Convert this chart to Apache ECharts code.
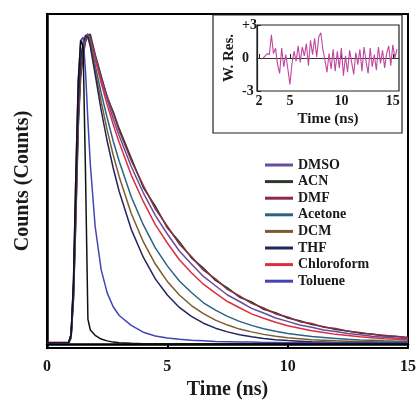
<!DOCTYPE html>
<html><head><meta charset="utf-8">
<script src="https://cdn.jsdelivr.net/npm/echarts@6/dist/echarts.min.js"></script>
<style>html,body{margin:0;padding:0;background:#fff}#c{width:418px;height:400px}</style>
</head><body><div id="c"></div>
<script>
// ---- data ----
const timeNs = [0, 0.9, 1.0, 1.1, 1.2, 1.3, 1.4, 1.5, 1.6, 1.7, 1.8, 2.0, 2.25, 2.5, 2.75, 3.0, 3.5, 4.0, 4.5, 5.0, 5.5, 6.0, 6.5, 7.0, 7.5, 8.0, 8.5, 9.0, 9.5, 10.0, 10.5, 11.0, 11.5, 12.0, 12.5, 13.0, 13.5, 14.0, 14.5, 15.0];

const seriesNames = ['DMSO', 'ACN', 'DMF', 'Acetone', 'DCM', 'THF', 'Chloroform', 'Toluene'];

const dmso = [0.004,0.004,0.03,0.18,0.48,0.78,0.92,0.97,0.995,1.0,0.98,
  0.925,0.853,0.79,0.727,0.672,0.573,0.488,0.415,0.355,0.30,0.258,0.218,0.188,0.158,0.137,0.115,0.100,0.084,0.073,0.061,0.054,0.045,0.040,0.034,0.030,0.025,0.022,0.019,0.017];
const acn = [0.004,0.004,0.02,0.14,0.40,0.70,0.86,0.93,0.975,0.995,1.0,
  0.935,0.866,0.795,0.75,0.695,0.60,0.505,0.445,0.375,0.33,0.278,0.245,0.205,0.181,0.151,0.136,0.112,0.101,0.084,0.075,0.063,0.056,0.047,0.042,0.035,0.032,0.026,0.025,0.020];
const dmf = [0.005,0.005,0.02,0.15,0.42,0.72,0.88,0.94,0.98,1.0,0.99,
  0.93,0.862,0.80,0.745,0.688,0.592,0.512,0.436,0.38,0.322,0.282,0.238,0.21,0.176,0.155,0.131,0.116,0.097,0.087,0.072,0.066,0.054,0.050,0.041,0.037,0.031,0.028,0.024,0.021];
const acetone = [0.004,0.004,0.02,0.16,0.45,0.75,0.9,0.96,0.99,1.0,0.975,
  0.90,0.81,0.73,0.655,0.59,0.475,0.385,0.31,0.252,0.203,0.166,0.133,0.109,0.089,0.073,0.060,0.049,0.041,0.034,0.029,0.024,0.021,0.018,0.015,0.013,0.012,0.010,0.009,0.009];
const dcm = [0.004,0.004,0.02,0.17,0.46,0.76,0.9,0.96,0.99,0.995,0.97,
  0.885,0.782,0.69,0.61,0.54,0.421,0.33,0.258,0.202,0.158,0.124,0.098,0.077,0.061,0.048,0.039,0.031,0.025,0.020,0.017,0.014,0.012,0.010,0.009,0.008,0.007,0.006,0.006,0.005];
const thf = [0.004,0.004,0.03,0.18,0.48,0.78,0.92,0.97,0.995,0.99,0.96,
  0.87,0.755,0.655,0.568,0.492,0.37,0.28,0.21,0.158,0.118,0.089,0.067,0.051,0.039,0.030,0.023,0.018,0.014,0.011,0.009,0.007,0.006,0.005,0.005,0.004,0.004,0.004,0.003,0.003];
const chloroform = [0.005,0.005,0.02,0.16,0.44,0.74,0.89,0.95,0.985,1.0,0.98,
  0.92,0.843,0.772,0.708,0.65,0.545,0.46,0.385,0.326,0.272,0.23,0.193,0.164,0.137,0.117,0.097,0.083,0.070,0.059,0.051,0.043,0.037,0.031,0.027,0.023,0.020,0.017,0.015,0.013];
const toluene = [0.003,0.004,0.03,0.2,0.55,0.85,0.98,0.99,0.88,0.72,0.58,
  0.38,0.24,0.165,0.12,0.092,0.06,0.038,0.026,0.019,0.015,0.012,0.010,0.008,0.007,0.006,0.006,0.005,0.005,0.004,0.004,0.004,0.004,0.003,0.003,0.003,0.003,0.003,0.003,0.003];
const irf = [0.003,0.004,0.03,0.2,0.55,0.85,0.98,0.96,0.55,0.08,0.045,
  0.028,0.016,0.010,0.006,0.004,0.002,0.001,0.001,0.001,0.001,0.001,0.001,0.001,0.001,0.001,0.001,0.001,0.001,0.001,0.001,0.001,0.001,0.001,0.001,0.001,0.001,0.001,0.001,0.001];

const residTime = [2.4,2.6,2.8,3.0,3.2,3.4,3.6,3.8,4.0,4.2,4.4,4.6,4.8,5.0,5.2,5.4,5.6,5.8,6.0,6.2,6.4,6.6,6.8,7.0,7.2,7.4,7.6,7.8,8.0,8.2,8.4,8.6,8.8,9.0,9.2,9.4,9.6,9.8,10.0,10.2,10.4,10.6,10.8,11.0,11.2,11.4,11.6,11.8,12.0,12.2,12.4,12.6,12.8,13.0,13.2,13.4,13.6,13.8,14.0,14.2,14.4,14.6,14.8,15.0,15.2,15.4];
const residValue = [0.0,0.2,0.4,0.3,2.1,0.4,0.9,-0.6,-1.4,0.9,-0.8,0.3,-1.0,-2.4,-0.5,0.6,-0.3,1.1,-0.4,1.0,0.2,1.3,-0.7,1.6,0.3,1.8,0.1,1.9,2.3,0.8,-0.2,-1.3,0.4,-1.0,0.8,-1.2,0.6,-0.9,0.9,-1.6,0.2,-1.3,0.7,-0.4,-1.5,0.5,-0.6,0.8,-1.2,1.0,-0.3,-1.4,0.9,-0.8,0.3,-1.1,1.0,-0.5,0.7,-0.9,0.4,1.1,-0.7,1.2,0.0,0.8];

const mainXTicks = [0, 5, 10, 15];
const insetXTicks = [2, 5, 10, 15];
const insetYTicks = [-3, 0, 3];

// ---- styling ----
const FONT = 'Liberation Serif';
const TXT = '#1a1a1a';
const colors = {
  DMSO: '#6a4c9c', ACN: '#2c3a2c', DMF: '#8a2c44', Acetone: '#2a6482',
  DCM: '#7c5c2c', THF: '#24245e', Chloroform: '#d8303f', Toluene: '#4444b4'
};
const dataMap = {DMSO: dmso, ACN: acn, DMF: dmf, Acetone: acetone, DCM: dcm, THF: thf, Chloroform: chloroform, Toluene: toluene};
const drawOrder = ['ACN', 'DMF', 'DMSO', 'Chloroform', 'Acetone', 'DCM', 'THF', 'Toluene'];

const zip = (xs, ys) => xs.map((x, i) => [x, ys[i]]);

const series = drawOrder.map(name => ({
  name, type: 'line', xAxisIndex: 0, yAxisIndex: 0,
  data: zip(timeNs, dataMap[name]), showSymbol: false, symbol: 'none',
  lineStyle: {width: 1.5, color: colors[name]}, itemStyle: {color: colors[name]},
  z: 3
}));
series.push({
  name: 'IRF', type: 'line', xAxisIndex: 0, yAxisIndex: 0,
  data: zip(timeNs, irf), showSymbol: false, symbol: 'none',
  lineStyle: {width: 1.5, color: '#111'}, itemStyle: {color: '#111'}, z: 4
});
series.push({
  name: 'resid', type: 'line', xAxisIndex: 1, yAxisIndex: 1,
  data: zip(residTime, residValue), showSymbol: false, symbol: 'none',
  lineStyle: {width: 1.1, color: '#c0479f'}, z: 5,
  markLine: {silent: true, symbol: 'none', label: {show: false},
    lineStyle: {color: '#333', width: 1.2, type: 'solid'}, data: [{yAxis: 0}]}
});

const chart = echarts.init(document.getElementById('c'), null, {renderer: 'canvas'});
chart.setOption({
  animation: false,
  backgroundColor: '#fff',
  grid: [
    {left: 47, right: 10, top: 14, bottom: 52, show: true, borderColor: '#000', borderWidth: 2,
     containLabel: false, outerBoundsMode: 'none'},
    {left: 257, top: 25, width: 142, height: 66, show: true, borderColor: '#222', borderWidth: 1.2,
     containLabel: false, outerBoundsMode: 'none'}
  ],
  xAxis: [
    {gridIndex: 0, type: 'value', min: 0, max: 15, interval: 5,
     axisLine: {lineStyle: {color: '#000', width: 2.5}},
     axisTick: {show: true, inside: false, length: 5, lineStyle: {color: '#000', width: 2}},
     axisLabel: {fontFamily: FONT, fontWeight: 'bold', fontSize: 16, color: TXT, margin: 11,
       customValues: mainXTicks},
     splitLine: {show: false},
     name: 'Time (ns)', nameLocation: 'middle', nameGap: 31,
     nameTextStyle: {fontFamily: FONT, fontWeight: 'bold', fontSize: 20, color: TXT}},
    {gridIndex: 1, type: 'value', min: 1.8, max: 15.6,
     axisLine: {lineStyle: {color: '#222', width: 1.2}},
     axisTick: {show: true, inside: true, length: 4, customValues: insetXTicks, lineStyle: {color: '#222'}},
     axisLabel: {fontFamily: FONT, fontWeight: 'bold', fontSize: 14, color: TXT, margin: 3,
       customValues: insetXTicks},
     splitLine: {show: false},
     name: 'Time (ns)', nameLocation: 'middle', nameGap: 21,
     nameTextStyle: {fontFamily: FONT, fontWeight: 'bold', fontSize: 15, color: TXT}}
  ],
  yAxis: [
    {gridIndex: 0, type: 'value', min: -0.013, max: 1.065,
     axisLine: {show: true, lineStyle: {color: '#000', width: 2.5}},
     axisTick: {show: false}, axisLabel: {show: false}, splitLine: {show: false},
     name: 'Counts (Counts)', nameLocation: 'middle', nameGap: 14,
     nameTextStyle: {fontFamily: FONT, fontWeight: 'bold', fontSize: 20, color: TXT}},
    {gridIndex: 1, type: 'value', min: -3, max: 3, interval: 3,
     axisLine: {show: true, lineStyle: {color: '#222', width: 1.2}},
     axisTick: {show: true, inside: true, length: 4, customValues: insetYTicks, lineStyle: {color: '#222'}},
     axisLabel: {fontFamily: FONT, fontWeight: 'bold', fontSize: 14, color: TXT, margin: 15, align: 'left',
       customValues: insetYTicks,
       formatter: v => (v > 0 ? '+' + v : String(v))},
     splitLine: {show: false},
     name: 'W. Res.', nameLocation: 'middle', nameGap: 20,
     nameTextStyle: {fontFamily: FONT, fontWeight: 'bold', fontSize: 15, color: TXT}}
  ],
  legend: {
    data: seriesNames, orient: 'vertical', left: 265, top: 158, padding: 0,
    icon: 'rect', itemWidth: 28, itemHeight: 3, itemGap: 2.6,
    textStyle: {fontFamily: FONT, fontWeight: 'bold', fontSize: 14, lineHeight: 14, color: TXT, padding: [0, 0, 0, 0]},
    inactiveColor: '#ccc'
  },
  graphic: [
    {type: 'rect', shape: {x: 213, y: 15, width: 189, height: 118},
     style: {fill: 'rgba(0,0,0,0)', stroke: '#222', lineWidth: 1.2}, z: 10, silent: true}
  ],
  series
});
</script></body></html>
